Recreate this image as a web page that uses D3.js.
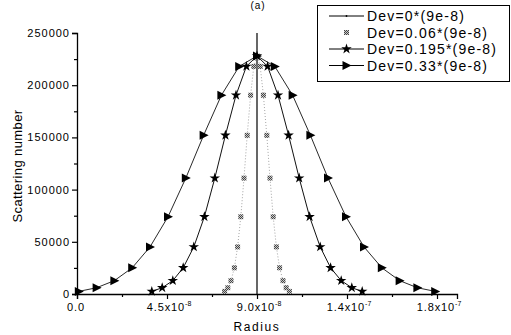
<!DOCTYPE html>
<html>
<head>
<meta charset="utf-8">
<script src="https://cdn.jsdelivr.net/npm/d3@7/dist/d3.min.js"></script>
<style>
  html, body { margin: 0; padding: 0; background: #fff; }
  svg { display: block; font-family: "Liberation Sans", Arial, sans-serif; }
</style>
</head>
<body>
<svg id="chart" width="511" height="335"></svg>
<script>
// Radius values in nm (1e-9 m) for each deviation setting
const radiusDev0 = [90, 90];
const countsDev0 = [0, 250000];

const radiusDev006 = [73.8, 75.4, 77.0, 78.7, 80.3, 81.9, 83.5, 85.1, 86.8, 88.4, 90,
                      91.6, 93.2, 94.9, 96.5, 98.1, 99.7, 101.3, 103.0, 104.6, 106.2];
const radiusDev0195 = [37.4, 42.6, 47.9, 53.1, 58.4, 63.7, 68.9, 74.2, 79.5, 84.7, 90,
                       95.3, 100.5, 105.8, 111.1, 116.3, 121.6, 126.8, 132.1, 137.4, 142.6];
const radiusDev033 = [0.9, 9.8, 18.7, 27.6, 36.5, 45.5, 54.4, 63.3, 72.2, 81.1, 90,
                      98.9, 107.8, 116.7, 125.5, 134.5, 143.5, 152.4, 161.3, 170.2, 179.1];

// Scattering number at each sample
const countsDev006 = [2500, 6000, 12800, 25100, 45100, 74000, 111000, 152000, 190400, 218000, 228000,
                      218000, 190400, 152000, 111000, 74000, 45100, 25100, 12800, 6000, 2500];
const countsDev0195 = [2500, 6000, 12800, 25100, 45100, 74000, 111000, 152000, 190400, 218000, 228000,
                       218000, 190400, 152000, 111000, 74000, 45100, 25100, 12800, 6000, 2500];
const countsDev033 = [2500, 6000, 12800, 25100, 45100, 74000, 111000, 152000, 190400, 218000, 228000,
                      218000, 190400, 152000, 111000, 74000, 45100, 25100, 12800, 6000, 2500];

const seriesNames = ["Dev=0*(9e-8)", "Dev=0.06*(9e-8)", "Dev=0.195*(9e-8)", "Dev=0.33*(9e-8)"];

// Axis ticks
const xTickValues = [0, 45, 90, 135, 180];
const xTickMantissa = ["0.0", "4.5x10", "9.0x10", "1.4x10", "1.8x10"];
const xTickExponent = ["", "-8", "-8", "-7", "-7"];
const yTickValues = [0, 50000, 100000, 150000, 200000, 250000];
const yMinorValues = [25000, 75000, 125000, 175000, 225000];

const svg = d3.select("#chart");
const x = d3.scaleLinear().domain([0, 190]).range([77, 457]);
const y = d3.scaleLinear().domain([0, 250000]).range([294, 33]);

// Halftone fill used by the square markers
const defs = svg.append("defs");
const pat = defs.append("pattern").attr("id", "halftone")
  .attr("width", 2).attr("height", 2).attr("patternUnits", "userSpaceOnUse");
pat.append("rect").attr("width", 2).attr("height", 2).attr("fill", "#c8c8c8");
pat.append("rect").attr("width", 1).attr("height", 1).attr("fill", "#444");
pat.append("rect").attr("x", 1).attr("y", 1).attr("width", 1).attr("height", 1).attr("fill", "#444");

const tickFont = "11px";

// Title
svg.append("text").attr("x", 258).attr("y", 9).attr("text-anchor", "middle")
  .attr("font-size", "10px").attr("letter-spacing", "1px").text("(a)");

// Y axis
const yAxis = svg.append("g").attr("transform", `translate(${x(0)},0)`)
  .call(d3.axisLeft(y).tickValues(yTickValues).tickSize(5).tickPadding(2).tickFormat(d3.format("d")));
svg.append("g").attr("transform", `translate(${x(0)},0)`)
  .call(d3.axisLeft(y).tickValues(yMinorValues).tickSize(3).tickFormat(""))
  .select(".domain").remove();
yAxis.selectAll("text").attr("font-size", tickFont).attr("letter-spacing", "1px")
  .attr("font-family", "Liberation Sans, Arial, sans-serif").attr("fill", "#000");

// X axis
const xAxis = svg.append("g").attr("transform", `translate(0,${y(0)})`)
  .call(d3.axisBottom(x).tickValues(xTickValues).tickSize(5).tickFormat(""));
svg.append("g").attr("transform", `translate(0,${y(0)})`)
  .call(d3.axisBottom(x).tickValues([22.5, 67.5, 112.5, 157.5]).tickSize(3).tickFormat(""))
  .select(".domain").remove();
svg.selectAll(".domain").attr("stroke", "#000").attr("stroke-width", 1.3);
svg.selectAll(".tick line").attr("stroke", "#000").attr("stroke-width", 1.2);

const xLabels = svg.append("g");
xTickValues.forEach((v, i) => {
  const t = xLabels.append("text").attr("x", x(v) + (xTickExponent[i] ? 2 : -1)).attr("y", 311)
    .attr("text-anchor", "middle").attr("font-size", tickFont).attr("letter-spacing", "0.9px");
  t.append("tspan").text(xTickMantissa[i]);
  if (xTickExponent[i]) {
    t.append("tspan").attr("font-size", "7px").attr("dy", -5).attr("letter-spacing", "0px")
      .text(xTickExponent[i]);
  }
});

// Axis titles
svg.append("text").attr("x", 257).attr("y", 331).attr("text-anchor", "middle")
  .attr("font-size", "12px").attr("letter-spacing", "1.6px").text("Radius");
svg.append("text").attr("transform", "translate(22,166) rotate(-90)").attr("text-anchor", "middle")
  .attr("font-size", "13px").attr("letter-spacing", "0.4px").text("Scattering number");

// Series
const line = d3.line().x(d => x(d[0])).y(d => y(d[1]));
const zip = (a, b) => a.map((v, i) => [v, b[i]]);

const d0 = zip(radiusDev0, countsDev0);
const d1 = zip(radiusDev006, countsDev006);
const d2 = zip(radiusDev0195, countsDev0195);
const d3s = zip(radiusDev033, countsDev033);

const plot = svg.append("g");
plot.append("path").datum(d1).attr("d", line).attr("fill", "none")
  .attr("stroke", "#9a9a9a").attr("stroke-width", 0.9).attr("stroke-dasharray", "1,2");
plot.append("path").datum(d2).attr("d", line).attr("fill", "none")
  .attr("stroke", "#111").attr("stroke-width", 1);
plot.append("path").datum(d3s).attr("d", line).attr("fill", "none")
  .attr("stroke", "#111").attr("stroke-width", 0.9);
plot.append("path").datum(d0).attr("d", line).attr("fill", "none")
  .attr("stroke", "#000").attr("stroke-width", 1.2);

const triPath = "M-4,-4.5L5,0L-4,4.5Z";
const starPath = d3.symbol().type(d3.symbolStar).size(34)();

function squares(g, data) {
  g.selectAll(null).data(data).enter().append("rect")
    .attr("x", d => x(d[0]) - 2.5).attr("y", d => y(d[1]) - 2.5)
    .attr("width", 5).attr("height", 5).attr("fill", "url(#halftone)");
}
function stars(g, data) {
  g.selectAll(null).data(data).enter().append("path").attr("d", starPath)
    .attr("transform", d => `translate(${x(d[0])},${y(d[1])})`).attr("fill", "#000");
}
function triangles(g, data) {
  g.selectAll(null).data(data).enter().append("path").attr("d", triPath)
    .attr("transform", d => `translate(${x(d[0])},${y(d[1])})`).attr("fill", "#000");
}
squares(plot, d1);
stars(plot, d2);
triangles(plot, d3s);

// Legend
const lg = svg.append("g");
lg.append("rect").attr("x", 317.5).attr("y", 5.5).attr("width", 192).attr("height", 76)
  .attr("fill", "#fff").attr("stroke", "#000").attr("stroke-width", 1);
const rowY = [16, 32.5, 49, 65.5];
const lx0 = 329, lx1 = 364, lmid = 346.5;
seriesNames.forEach((name, i) => {
  const yy = rowY[i];
  if (i !== 1) {
    lg.append("line").attr("x1", lx0).attr("x2", lx1).attr("y1", yy).attr("y2", yy)
      .attr("stroke", "#000").attr("stroke-width", 1);
  }
  if (i === 0) {
    lg.append("circle").attr("cx", lmid).attr("cy", yy).attr("r", 0.9).attr("fill", "#000");
  } else if (i === 1) {
    squares(lg, [[x.invert(lmid), y.invert(yy)]]);
  } else if (i === 2) {
    stars(lg, [[x.invert(lmid), y.invert(yy)]]);
  } else {
    triangles(lg, [[x.invert(lmid), y.invert(yy)]]);
  }
  lg.append("text").attr("x", 367).attr("y", yy + 5).attr("font-size", "14px")
    .attr("letter-spacing", "1.2px").text(name);
});
</script>
</body>
</html>
